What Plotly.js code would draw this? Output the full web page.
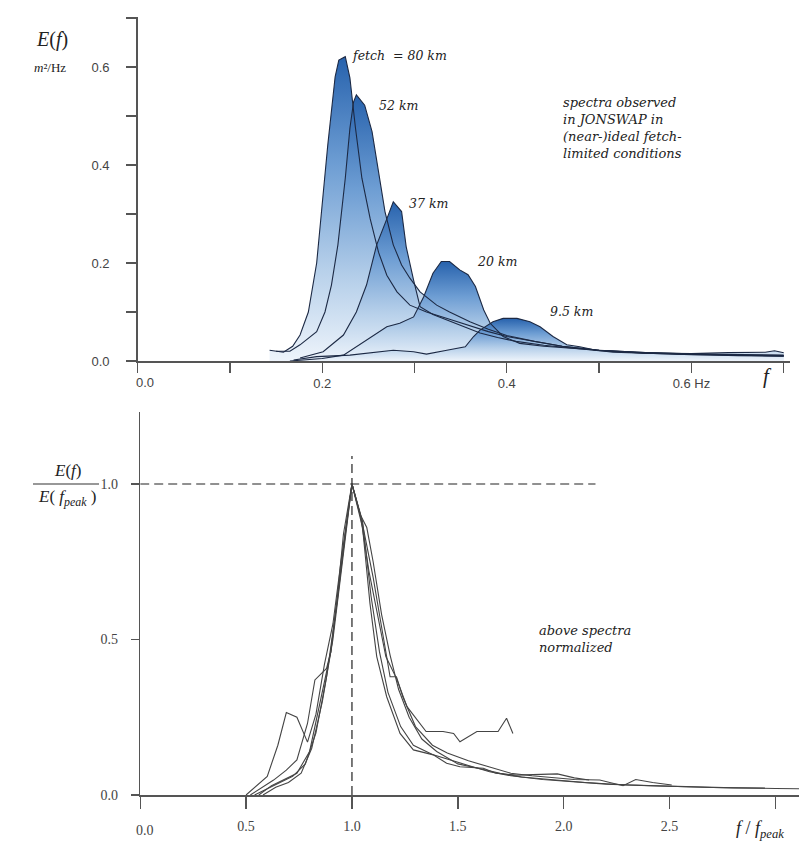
<!DOCTYPE html>
<html><head><meta charset="utf-8">
<script src="https://cdn.plot.ly/plotly-3.0.1.min.js"></script>
<style>html,body{margin:0;padding:0;background:#fff;}#chart{width:799px;height:841px;}</style>
</head><body><div id="chart"></div>
<script>
// ---------- TOP PANEL DATA: E(f) in m^2/Hz vs f in Hz ----------
const fetchLabels = ["fetch  = 80 km", "52 km", "37 km", "20 km", "9.5 km"];

const f80 = [0.143,0.158,0.168,0.176,0.185,0.194,0.199,0.206,0.214,0.218,0.225,0.230,0.236,0.243,0.252,0.261,0.270,0.281,0.295,0.313,0.338,0.36,0.38,0.40,0.43,0.46,0.5,0.55,0.6,0.65,0.7];
const E80 = [0.022,0.018,0.030,0.053,0.10,0.20,0.30,0.44,0.58,0.614,0.621,0.578,0.476,0.373,0.29,0.222,0.175,0.141,0.114,0.10,0.085,0.072,0.06,0.05,0.04,0.03,0.022,0.017,0.014,0.013,0.012];

const f52 = [0.15,0.165,0.176,0.194,0.203,0.210,0.217,0.225,0.230,0.234,0.237,0.246,0.254,0.261,0.268,0.277,0.286,0.295,0.306,0.324,0.338,0.36,0.38,0.40,0.43,0.46,0.5,0.55,0.6,0.65,0.7];
const E52 = [0.02,0.02,0.033,0.06,0.10,0.155,0.237,0.373,0.475,0.529,0.543,0.522,0.468,0.386,0.305,0.237,0.196,0.169,0.141,0.114,0.10,0.08,0.065,0.052,0.04,0.03,0.022,0.016,0.013,0.012,0.011];

const f37 = [0.176,0.201,0.223,0.237,0.248,0.259,0.27,0.277,0.286,0.291,0.299,0.306,0.32,0.335,0.35,0.371,0.39,0.41,0.44,0.47,0.5,0.55,0.6,0.65,0.7];
const E37 = [0.006,0.019,0.053,0.10,0.155,0.237,0.29,0.325,0.305,0.233,0.165,0.111,0.095,0.084,0.072,0.057,0.048,0.04,0.032,0.026,0.021,0.016,0.013,0.011,0.01];

const f20 = [0.165,0.2,0.223,0.248,0.27,0.284,0.299,0.31,0.32,0.329,0.338,0.349,0.358,0.366,0.375,0.382,0.396,0.414,0.44,0.47,0.5,0.55,0.6,0.65,0.7];
const E20 = [0.0,0.005,0.012,0.043,0.07,0.077,0.09,0.131,0.179,0.203,0.203,0.186,0.176,0.152,0.104,0.077,0.05,0.036,0.03,0.026,0.022,0.017,0.014,0.012,0.01];

const f95 = [0.169,0.194,0.23,0.259,0.277,0.299,0.313,0.335,0.355,0.364,0.371,0.385,0.396,0.411,0.425,0.436,0.45,0.465,0.479,0.497,0.515,0.55,0.6,0.64,0.68,0.69,0.7];
const E95 = [0.002,0.009,0.012,0.019,0.022,0.019,0.014,0.022,0.029,0.05,0.063,0.08,0.087,0.087,0.08,0.07,0.05,0.033,0.029,0.022,0.018,0.016,0.015,0.017,0.018,0.021,0.017];

// label anchor points (data coords) for the fetch labels
const labelF = [0.230, 0.2595, 0.292, 0.3655, 0.4447];
const labelE = [0.624, 0.522, 0.322, 0.204, 0.102];

const topXTickVals = [0.2,0.4,0.6];
const topXTickText = ["0.2","0.4","0.6 Hz"];
const topYTickVals = [0,0.2,0.4,0.6];
const topYTickText = ["0.0","0.2","0.4","0.6"];

// ---------- BOTTOM PANEL DATA: E/E(fpeak) vs f/fpeak ----------
const r80 = [0.56,0.62,0.68,0.74,0.8,0.85,0.9,0.95,1.0,1.05,1.09,1.13,1.17,1.23,1.29,1.38,1.45,1.55,1.65,1.75,1.9,2.05,2.2,2.4,2.6,2.8,3.0,3.12];
const n80 = [0,0.03,0.05,0.07,0.14,0.3,0.46,0.74,1.0,0.88,0.64,0.46,0.33,0.22,0.16,0.13,0.115,0.095,0.075,0.062,0.05,0.042,0.035,0.03,0.026,0.023,0.021,0.02];

const r52 = [0.54,0.6,0.66,0.72,0.78,0.83,0.88,0.93,0.97,1.0,1.04,1.07,1.1,1.14,1.18,1.22,1.27,1.33,1.4,1.5,1.6,1.7,1.8,1.95,2.1,2.3,2.5,2.7,2.95];
const n52 = [0,0.02,0.04,0.06,0.1,0.2,0.38,0.62,0.85,1.0,0.9,0.86,0.75,0.58,0.45,0.34,0.25,0.18,0.14,0.1,0.085,0.07,0.058,0.048,0.04,0.032,0.027,0.024,0.022];

const r37 = [0.58,0.64,0.7,0.76,0.81,0.86,0.91,0.95,1.0,1.05,1.1,1.15,1.18,1.21,1.24,1.3,1.38,1.45,1.55,1.65,1.75,1.85,1.95,2.05,2.17,2.28,2.34,2.42,2.51];
const n37 = [0,0.025,0.04,0.07,0.15,0.3,0.5,0.72,1.0,0.87,0.7,0.5,0.38,0.38,0.316,0.22,0.16,0.135,0.11,0.09,0.07,0.062,0.055,0.05,0.048,0.03,0.05,0.04,0.032];

const r20 = [0.52,0.58,0.63,0.69,0.74,0.79,0.825,0.88,0.9,0.93,0.96,1.0,1.05,1.085,1.117,1.164,1.227,1.29,1.384,1.447,1.51,1.62,1.68,1.777,1.9,1.97,2.05,2.12];
const n20 = [0,0.025,0.048,0.08,0.113,0.23,0.37,0.407,0.46,0.63,0.84,1.0,0.86,0.616,0.445,0.316,0.198,0.145,0.129,0.102,0.091,0.086,0.07,0.064,0.068,0.068,0.055,0.048];

const r95 = [0.5,0.55,0.6,0.65,0.69,0.74,0.79,0.83,0.87,0.91,0.95,1.0,1.04,1.08,1.12,1.16,1.21,1.26,1.35,1.43,1.48,1.51,1.59,1.69,1.73,1.76];
const n95 = [0,0.03,0.06,0.16,0.265,0.25,0.17,0.26,0.42,0.55,0.76,1.0,0.9,0.72,0.58,0.445,0.375,0.284,0.204,0.204,0.198,0.171,0.204,0.204,0.247,0.198];

// reference (peak) dashed lines
const peakLineX = [0, 2.15];
const peakLineY = [1, 1];
const unitLineX = [1, 1];
const unitLineY = [0, 1.09];

const botXTickVals = [0.5,1.0,1.5,2.0,2.5];
const botXTickText = ["0.5","1.0","1.5","2.0","2.5"];
const botYTickVals = [0,0.5,1.0];
const botYTickText = ["0.0","0.5","1.0"];

// ---------- BUILD ----------
const W = 799, H = 841;
const px = x => x / W;
const py = y => 1 - y / H;

const SERIF = "Liberation Serif, Times New Roman, serif";
const ISERIF = "DejaVu Serif, Liberation Serif, serif";
const NARROW = "Liberation Sans Narrow, Liberation Sans, Arial, sans-serif";

const topSeries = [[f80,E80],[f52,E52],[f37,E37],[f20,E20],[f95,E95]];
const botSeries = [[r80,n80],[r52,n52],[r37,n37],[r20,n20],[r95,n95]];

const grad = {type:"vertical", colorscale:[[0,"#eef4fb"],[0.3,"#b7d0ea"],[0.65,"#6d9dd3"],[1,"#2762ad"]]};

const traces = [];
topSeries.forEach(([x,y]) => {
  traces.push({x:x, y:y, xaxis:"x", yaxis:"y", type:"scatter", mode:"lines",
    line:{width:0, color:"rgba(0,0,0,0)"}, fill:"tozeroy", fillgradient:grad,
    hoverinfo:"skip", showlegend:false});
});
topSeries.forEach(([x,y]) => {
  traces.push({x:x, y:y, xaxis:"x", yaxis:"y", type:"scatter", mode:"lines",
    line:{width:1.1, color:"#1c2944"}, showlegend:false});
});
traces.push({x:peakLineX, y:peakLineY, xaxis:"x2", yaxis:"y2", type:"scatter", mode:"lines",
  line:{width:1.2, color:"#222", dash:"9px,5px"}, showlegend:false});
traces.push({x:unitLineX, y:unitLineY, xaxis:"x2", yaxis:"y2", type:"scatter", mode:"lines",
  line:{width:1.2, color:"#222", dash:"9px,5px"}, showlegend:false});
botSeries.forEach(([x,y]) => {
  traces.push({x:x, y:y, xaxis:"x2", yaxis:"y2", type:"scatter", mode:"lines",
    line:{width:1.1, color:"#444"}, showlegend:false});
});

const axCommon = {showgrid:false, zeroline:false, showline:true, linecolor:"#555", linewidth:1.5,
  ticks:"outside", ticklen:10, tickcolor:"#555", tickwidth:1.3, fixedrange:true};

const annotations = [];
fetchLabels.forEach((t,i) => {
  annotations.push({xref:"x", yref:"y", x:labelF[i], y:labelE[i], text:"<i>"+t+"</i>",
    showarrow:false, xanchor:"left", yanchor:"middle", font:{family:ISERIF, size:12.5, color:"#222"}});
});
const pa = (x,y,text,size,xa,extra) => Object.assign({xref:"paper", yref:"paper", x:px(x), y:py(y), text:text,
  showarrow:false, xanchor:xa||"center", yanchor:"middle", font:{family:SERIF, size:size, color:"#222"}}, extra||{});
annotations.push(pa(561,128,"<i>spectra observed<br>in JONSWAP in<br>(near-)ideal fetch-<br>limited conditions</i>",13,"left",
  {align:"left", font:{family:ISERIF, size:13, color:"#222"}}));
annotations.push(pa(537,639,"<i>above spectra<br>normalized</i>",13,"left",
  {align:"left", font:{family:ISERIF, size:13, color:"#222"}}));
annotations.push(pa(52,40,"<i>E</i>(<i>f</i>)",20));
annotations.push(pa(50,67,"<i>m</i>²/Hz",13));
annotations.push(pa(767,376,"<i>f</i>",21));
annotations.push(pa(145,382,"0.0",13,"center",{font:{family:NARROW,size:13,color:"#444"}}));
annotations.push(pa(145,830,"0.0",14,"center",{font:{family:SERIF,size:14,color:"#444"}}));
annotations.push(pa(67,470,"<i>E</i>(<i>f</i>)",17));
annotations.push(pa(67,498,"<i>E</i>( <i>f</i><sub><i>peak</i></sub> )",17));
annotations.push(pa(760,829,"<i>f</i> / <i>f</i><sub><i>peak</i></sub>",18));

const layout = {
  width:W, height:H, margin:{l:0,r:0,t:0,b:0}, paper_bgcolor:"#fff", plot_bgcolor:"rgba(0,0,0,0)",
  showlegend:false,
  xaxis: Object.assign({}, axCommon, {domain:[px(137.6), px(790)], range:[0,0.7068], anchor:"y",
    tickvals:topXTickVals, ticktext:topXTickText, tickfont:{family:NARROW, size:13, color:"#444"},
    minor:{dtick:0.1, tick0:0, ticks:"outside", ticklen:10, tickcolor:"#555", tickwidth:1.3}}),
  yaxis: Object.assign({}, axCommon, {domain:[py(361), py(17)], range:[0,0.702], anchor:"x",
    tickvals:topYTickVals, ticktext:topYTickText, ticklabelstandoff:14, tickfont:{family:NARROW, size:13, color:"#444"},
    minor:{dtick:0.1, tick0:0, ticks:"outside", ticklen:10, tickcolor:"#555", tickwidth:1.3}}),
  xaxis2: Object.assign({}, axCommon, {domain:[px(140.2), 1], range:[0,3.111], anchor:"y2", ticklen:12,
    tickvals:botXTickVals, ticktext:botXTickText, ticklabelstandoff:6, tickfont:{family:SERIF, size:14, color:"#444"},
    minor:{dtick:0.5, tick0:0, ticks:"outside", ticklen:12, tickcolor:"#555", tickwidth:1.3}}),
  yaxis2: Object.assign({}, axCommon, {domain:[py(795), py(412)], range:[0,1.2315], anchor:"x2", ticklen:8,
    tickvals:botYTickVals, ticktext:botYTickText, ticklabelstandoff:10, tickfont:{family:SERIF, size:14, color:"#444"}}),
  shapes:[{type:"line", xref:"paper", yref:"paper", x0:px(33), x1:px(99), y0:py(484), y1:py(484), line:{color:"#333", width:1.2}}],
  annotations: annotations
};

Plotly.newPlot("chart", traces, layout, {staticPlot:true, displayModeBar:false});
</script>
</body></html>
